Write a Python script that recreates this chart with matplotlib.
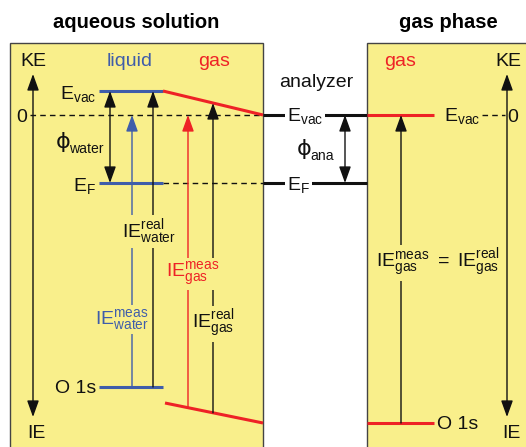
import matplotlib
matplotlib.use('Agg')
import numpy as np
import matplotlib.pyplot as plt
from matplotlib.patches import Rectangle, FancyArrowPatch

plt.rcParams['font.family'] = ['Liberation Sans', 'DejaVu Sans']
plt.rcParams['mathtext.fontset'] = 'custom'
plt.rcParams['mathtext.rm'] = 'Liberation Sans'
plt.rcParams['mathtext.it'] = 'Liberation Sans:italic'
plt.rcParams['mathtext.bf'] = 'Liberation Sans:bold'

# ---- diagram data (energy levels, diagram units with y pointing down) ----
liquid_level_names = ['E_vac', 'E_F', 'O 1s']
liquid_level_y = [91, 183, 387]
liquid_level_x = [99, 163]
zero_level_y = 115
gas_aq_evac_x = [163, 263]
gas_aq_evac_y = [91, 115]
gas_aq_o1s_x = [165, 263]
gas_aq_o1s_y = [403, 423]
analyzer_x = [263, 367]
analyzer_evac_y = 115
analyzer_ef_y = 183
gasphase_level_x = [367, 434]
gasphase_evac_y = 115
gasphase_o1s_y = 423

YELLOW = '#F9EF8B'
BLUE = '#3F5DAA'
RED = '#EE2226'
BLACK = '#111111'
FS = 14
FS_T = 14.5

fig = plt.figure(figsize=(5.26, 4.47), dpi=100)
ax = fig.add_axes([0, 0, 1, 1])
ax.set_xlim(0, 526)
ax.set_ylim(447, 0)
ax.axis('off')

# boxes
ax.add_patch(Rectangle((10, 43), 253, 500, facecolor=YELLOW, edgecolor='#444444', lw=1.0, zorder=0))
ax.add_patch(Rectangle((367, 43), 250, 500, facecolor=YELLOW, edgecolor='#444444', lw=1.0, zorder=0))

ax.text(136, 22, 'aqueous solution', fontsize=FS_T, fontweight='bold', ha='center', va='center')
ax.text(448, 22, 'gas phase', fontsize=FS_T, fontweight='bold', ha='center', va='center')


def arrow(x, y0, y1, color, both=False, lw=1.0):
    style = '<|-|>' if both else '-|>'
    ax.add_patch(FancyArrowPatch((x, y0), (x, y1),
                 arrowstyle=f'{style},head_length=10,head_width=3.6',
                 mutation_scale=1, color=color, lw=lw, shrinkA=0, shrinkB=0, zorder=3))


def label(x, y, s, color=BLACK, ha='left', bg=None, va='baseline'):
    kw = {}
    if bg is not None:
        kw['bbox'] = dict(facecolor=bg, edgecolor='none', pad=1.5)
    ax.text(x, y, s, fontsize=FS, color=color, ha=ha, va=va, zorder=5, **kw)


def phi_label(x, y, sub):
    ax.text(x, y, '\u03d5', fontsize=FS + 2, color=BLACK, ha='left', va='baseline',
            family=['DejaVu Sans'], zorder=5)
    ax.text(x + 13, y + 5, sub, fontsize=FS * 0.72, color=BLACK, ha='left', va='baseline', zorder=5)


# dashed reference lines
ax.plot([30, 263], [zero_level_y, zero_level_y], color=BLACK, lw=1.0, ls=(0, (4, 3)), zorder=1)
ax.plot([163, 263], [liquid_level_y[1], liquid_level_y[1]], color=BLACK, lw=1.0, ls=(0, (4, 3)), zorder=1)
ax.plot([482, 505], [gasphase_evac_y, gasphase_evac_y], color=BLACK, lw=1.0, ls=(0, (4, 3)), zorder=1)

# liquid levels
for y in liquid_level_y:
    ax.plot(liquid_level_x, [y, y], color=BLUE, lw=2.2, solid_capstyle='butt', zorder=2)

# gas (aqueous side) levels, slanted
ax.plot(gas_aq_evac_x, gas_aq_evac_y, color=RED, lw=2.2, solid_capstyle='butt', zorder=2)
ax.plot(gas_aq_o1s_x, gas_aq_o1s_y, color=RED, lw=2.2, solid_capstyle='butt', zorder=2)

# analyzer levels
ax.plot(analyzer_x, [analyzer_evac_y] * 2, color=BLACK, lw=2.2, solid_capstyle='butt', zorder=2)
ax.plot(analyzer_x, [analyzer_ef_y] * 2, color=BLACK, lw=2.2, solid_capstyle='butt', zorder=2)

# gas phase levels
ax.plot(gasphase_level_x, [gasphase_evac_y] * 2, color=RED, lw=2.2, solid_capstyle='butt', zorder=2)
ax.plot(gasphase_level_x, [gasphase_o1s_y] * 2, color=RED, lw=2.2, solid_capstyle='butt', zorder=2)

# axes arrows KE/IE
arrow(33, 417, 74, BLACK, both=True)
arrow(507, 417, 74, BLACK, both=True)

# work function arrows
arrow(110, liquid_level_y[0], liquid_level_y[1], BLACK, both=True)
arrow(345, analyzer_evac_y, analyzer_ef_y, BLACK, both=True)

# ionisation energy arrows
def red_upper(x):
    return np.interp(x, gas_aq_evac_x, gas_aq_evac_y)


def red_lower(x):
    return np.interp(x, gas_aq_o1s_x, gas_aq_o1s_y)


arrow(132, liquid_level_y[2], zero_level_y, BLUE)
arrow(153, liquid_level_y[2], liquid_level_y[0], BLACK)
arrow(188, red_lower(188), zero_level_y, RED)
arrow(213, red_lower(213), red_upper(213), BLACK)
arrow(401, gasphase_o1s_y, gasphase_evac_y, BLACK)

# text labels
label(33, 66, 'KE', ha='center')
label(36, 438, 'IE', ha='center')
label(508, 66, 'KE', ha='center')
label(511, 438, 'IE', ha='center')
label(22, 115, '0', ha='center', va='center_baseline')
label(513, 115, '0', ha='center', va='center_baseline')
label(130, 66, 'liquid', color=BLUE, ha='center')
label(214, 66, 'gas', color=RED, ha='center')
label(400, 66, 'gas', color=RED, ha='center')
label(316, 87, 'analyzer', ha='center')

label(96, 99, r'$\mathrm{E}_{\mathrm{vac}}$', ha='right')
label(96, 191, r'$\mathrm{E}_{\mathrm{F}}$', ha='right')
label(96, 393, 'O 1s', ha='right')
phi_label(56, 148, 'water')

label(287, 121, r'$\mathrm{E}_{\mathrm{vac}}$', ha='left', bg='white')
label(287, 190, r'$\mathrm{E}_{\mathrm{F}}$', ha='left', bg='white')
phi_label(297, 155, 'ana')

label(444, 121, r'$\mathrm{E}_{\mathrm{vac}}$', ha='left')
label(437, 429, 'O 1s', ha='left')

label(122, 237, r'$\mathrm{IE}^{\mathrm{real}}_{\mathrm{water}}$', bg=YELLOW)
label(95, 324, r'$\mathrm{IE}^{\mathrm{meas}}_{\mathrm{water}}$', color=BLUE, bg=YELLOW)
label(166, 277, r'$\mathrm{IE}^{\mathrm{meas}}_{\mathrm{gas}}$', color=RED, bg=YELLOW)
label(192, 328, r'$\mathrm{IE}^{\mathrm{real}}_{\mathrm{gas}}$', bg=YELLOW)
label(376, 267, r'$\mathrm{IE}^{\mathrm{meas}}_{\mathrm{gas}}\ =\ \mathrm{IE}^{\mathrm{real}}_{\mathrm{gas}}$', bg=YELLOW)

fig.savefig('out.png', dpi=100, facecolor='white')
